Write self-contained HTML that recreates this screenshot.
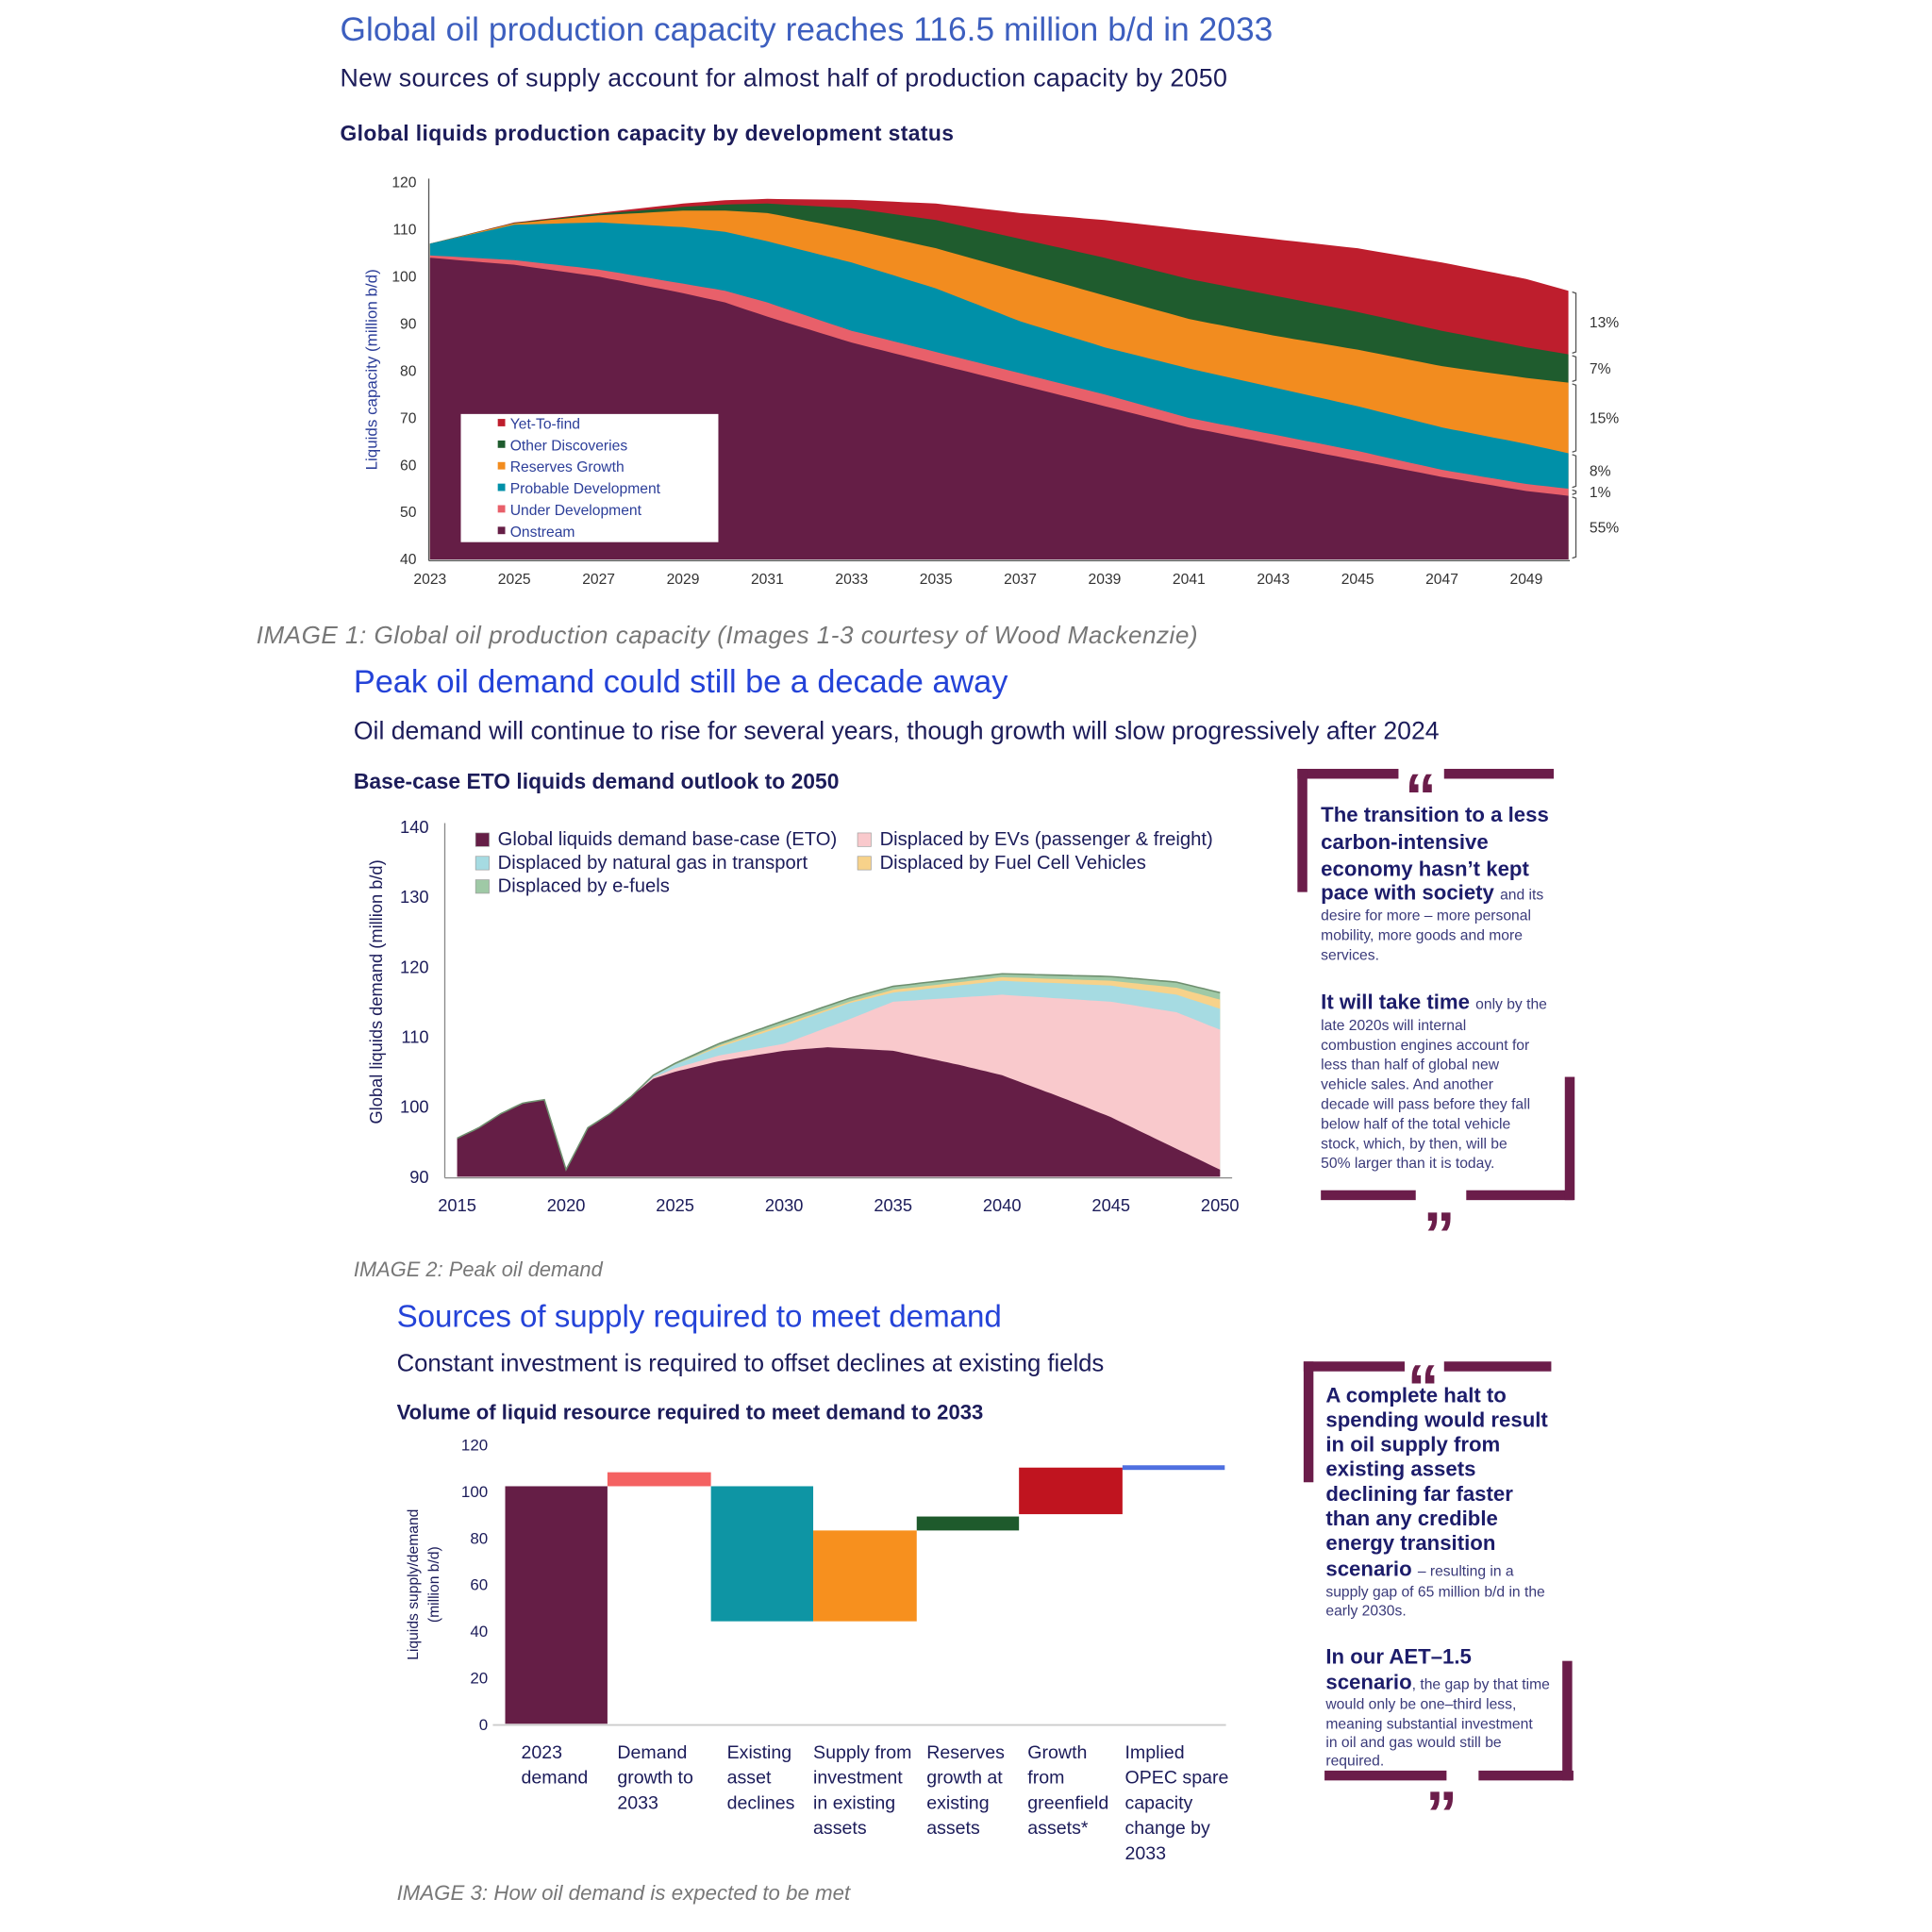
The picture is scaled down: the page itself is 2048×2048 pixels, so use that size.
<!DOCTYPE html>
<html><head><meta charset="utf-8"><style>
html,body{margin:0;padding:0;background:#fff}
svg{display:block}
text{font-family:"Liberation Sans",sans-serif}
</style></head><body>
<svg id="s" width="2048" height="2048" viewBox="0 0 1568 1568" xmlns="http://www.w3.org/2000/svg">
<rect width="1568" height="1568" fill="#fff"/>
<!-- Section 1 -->
<text x="276" y="33" font-size="27" fill="#3d5fbf" textLength="757">Global oil production capacity reaches 116.5 million b/d in 2033</text>
<text x="276" y="70" font-size="20.5" fill="#1c1c5a" textLength="720">New sources of supply account for almost half of production capacity by 2050</text>
<text x="276" y="114" font-size="17.5" font-weight="bold" fill="#1c1c5a" textLength="498">Global liquids production capacity by development status</text>
<g id="c1"></g>
<text x="208" y="522" font-size="20" font-style="italic" fill="#777" textLength="764">IMAGE 1: Global oil production capacity (Images 1-3 courtesy of Wood Mackenzie)</text>
<!-- Section 2 -->
<text x="287" y="562" font-size="26.3" fill="#2443d8" textLength="531">Peak oil demand could still be a decade away</text>
<text x="287" y="600" font-size="20.4" fill="#1c1c5a" textLength="881">Oil demand will continue to rise for several years, though growth will slow progressively after 2024</text>
<text x="287" y="640" font-size="17.5" font-weight="bold" fill="#1c1c5a" textLength="394">Base-case ETO liquids demand outlook to 2050</text>
<g id="c2"></g>
<text x="287" y="1036" font-size="16.7" font-style="italic" fill="#777" textLength="202">IMAGE 2: Peak oil demand</text>
<!-- Section 3 -->
<text x="322" y="1077" font-size="25.4" fill="#2443d8" textLength="491">Sources of supply required to meet demand</text>
<text x="322" y="1113" font-size="19.7" fill="#1c1c5a" textLength="574">Constant investment is required to offset declines at existing fields</text>
<text x="322" y="1152" font-size="16.9" font-weight="bold" fill="#1c1c5a" textLength="476">Volume of liquid resource required to meet demand to 2033</text>
<g id="c3"></g>
<text x="322" y="1542" font-size="17" font-style="italic" fill="#777" textLength="368">IMAGE 3: How oil demand is expected to be met</text>

<!-- Quote boxes -->
<g fill="#6b1d4a">
<rect x="1053" y="624" width="82" height="8"/><rect x="1172" y="624" width="89" height="8"/>
<rect x="1053" y="624" width="8" height="100"/>
<rect x="1072" y="966" width="77" height="8"/><rect x="1190" y="966" width="87" height="8"/>
<rect x="1270" y="874" width="8" height="100"/>
<rect x="1058" y="1105" width="82" height="8"/><rect x="1172" y="1105" width="87" height="8"/>
<rect x="1058" y="1105" width="8" height="98"/>
<rect x="1075" y="1437" width="99" height="8"/><rect x="1200" y="1437" width="77" height="8"/>
<rect x="1268" y="1348" width="8" height="97"/>
</g>
<g fill="#6b1d4a" font-size="52" font-weight="bold">
<text x="1140" y="664">“</text><text x="1155" y="1020">”</text>
<text x="1142" y="1144">“</text><text x="1157" y="1490">”</text>
</g>
<g fill="#1c1c6a" font-weight="bold" font-size="17">
<text x="1072" y="667">The transition to a less</text>
<text x="1072" y="689">carbon-intensive</text>
<text x="1072" y="711">economy hasn’t kept</text>
<text x="1072" y="730">pace with society <tspan font-size="12" font-weight="normal" fill="#3a3a7a">and its</tspan></text>
<text x="1072" y="819">It will take time <tspan font-size="12" font-weight="normal" fill="#3a3a7a">only by the</tspan></text>
<text x="1076" y="1138">A complete halt to</text>
<text x="1076" y="1158">spending would result</text>
<text x="1076" y="1178">in oil supply from</text>
<text x="1076" y="1198">existing assets</text>
<text x="1076" y="1218">declining far faster</text>
<text x="1076" y="1238">than any credible</text>
<text x="1076" y="1258">energy transition</text>
<text x="1076" y="1279">scenario <tspan font-size="12" font-weight="normal" fill="#3a3a7a">– resulting in a</tspan></text>
<text x="1076" y="1350">In our AET–1.5</text>
<text x="1076" y="1371">scenario<tspan font-size="12" font-weight="normal" fill="#3a3a7a">, the gap by that time</tspan></text>
</g>
<g fill="#3a3a7a" font-size="12">
<text x="1072" y="747">desire for more – more personal</text>
<text x="1072" y="763">mobility, more goods and more</text>
<text x="1072" y="779">services.</text>
<text x="1072" y="836">late 2020s will internal</text>
<text x="1072" y="852">combustion engines account for</text>
<text x="1072" y="868">less than half of global new</text>
<text x="1072" y="884">vehicle sales. And another</text>
<text x="1072" y="900">decade will pass before they fall</text>
<text x="1072" y="916">below half of the total vehicle</text>
<text x="1072" y="932">stock, which, by then, will be</text>
<text x="1072" y="948">50% larger than it is today.</text>
<text x="1076" y="1296">supply gap of 65 million b/d in the</text>
<text x="1076" y="1311">early 2030s.</text>
<text x="1076" y="1387">would only be one–third less,</text>
<text x="1076" y="1403">meaning substantial investment</text>
<text x="1076" y="1418">in oil and gas would still be</text>
<text x="1076" y="1433">required.</text>
</g>
</svg>
<script>
const NS="http://www.w3.org/2000/svg";
function el(p,t,a,txt){const e=document.createElementNS(NS,t);for(const k in a)e.setAttribute(k,a[k]);if(txt!==undefined)e.textContent=txt;p.appendChild(e);return e;}
function interp(pts,x){for(let i=0;i<pts.length-1;i++){if(x>=pts[i][0]&&x<=pts[i+1][0]){const t=(x-pts[i][0])/(pts[i+1][0]-pts[i][0]);return pts[i][1]+t*(pts[i+1][1]-pts[i][1]);}}return pts[pts.length-1][1];}
function band(g,top,bot,X,Y,x0,x1,step,fill){let d="";for(let x=x0;x<=x1+1e-9;x+=step){d+=(d?"L":"M")+X(x).toFixed(1)+","+Y(interp(top,x)).toFixed(1);}for(let x=x1;x>=x0-1e-9;x-=step){d+="L"+X(x).toFixed(1)+","+Y(bot?interp(bot,x):null).toFixed(1);}el(g,"path",{d:d+"Z",fill:fill});}
// Chart 1
(function(){const g=document.getElementById("c1");
const X=y=>349+(y-2023)*34.22,Y=v=>v===null?454:454-(v-40)*3.825;
const yrs=[2023,2025,2027,2029,2030,2031,2033,2035,2037,2039,2041,2043,2045,2047,2049,2050];
const mk=a=>yrs.map((y,i)=>[y,a[i]]);
const on=mk([104,102.5,100,96.5,94.5,91.5,86,81.5,77,72.5,68,64.5,61,57.5,54.5,53.5]);
const ud=mk([104.5,103.5,101.5,98.5,97,94.5,88.5,84,79.5,75,70,66.5,63,59,56,55]);
const pd=mk([107,111,111.5,110.5,109.5,107.5,103,97.5,90.5,85,80.5,76.5,72.5,68,64.5,62.5]);
const rg=mk([107,111.3,113,114,114,113.5,110,106,101,96,91,87.5,84.5,81,78.5,77.5]);
const od=mk([107,111.4,113.3,114.8,115.3,115.5,114.5,112,108,104,99.5,96,92.5,88.5,85,83.5]);
const yf=mk([107,111.5,113.5,115.5,116.2,116.5,116.3,115.5,113.5,112,110,108,106,103,99.5,97]);
const L=[[yf,"#be1e2d"],[od,"#1f5c2e"],[rg,"#f28c1f"],[pd,"#0090a8"],[ud,"#e8606a"],[on,"#651e46"]];
L.forEach(([t,c])=>band(g,t,null,X,Y,2023,2050,0.25,c));
el(g,"line",{x1:348,y1:145,x2:348,y2:455,stroke:"#555","stroke-width":1});
el(g,"line",{x1:348,y1:455,x2:1274,y2:455,stroke:"#555","stroke-width":1});
for(let v=40;v<=120;v+=10){el(g,"text",{x:338,y:Y(v)+4,"font-size":12,"text-anchor":"end",fill:"#333"},v);}
for(let y=2023;y<=2049;y+=2){el(g,"text",{x:X(y),y:474,"font-size":12,"text-anchor":"middle",fill:"#333"},y);}
el(g,"text",{x:306,y:300,"font-size":13,"text-anchor":"middle",fill:"#2c3e99",transform:"rotate(-90 306 300)"},"Liquids capacity (million b/d)");
el(g,"rect",{x:374,y:336,width:209,height:104,fill:"#fff"});
[["Yet-To-find","#be1e2d"],["Other Discoveries","#1f5c2e"],["Reserves Growth","#f28c1f"],["Probable Development","#0090a8"],["Under Development","#e8606a"],["Onstream","#651e46"]].forEach(([n,c],i)=>{const yy=344+i*17.5;el(g,"rect",{x:404,y:yy-4,width:6,height:6,fill:c});el(g,"text",{x:414,y:yy+4,"font-size":12,fill:"#2c3e99"},n);});
const br=[[97,83.5,"13%"],[83.5,77.5,"7%"],[77.5,62.5,"15%"],[62.5,55,"8%"],[55,53.5,"1%"],[53.5,40,"55%"]];
br.forEach(([a,b,t])=>{el(g,"path",{d:`M1276,${Y(a)+1} L1279,${Y(a)+2} L1279,${Y(b)-2} L1276,${Y(b)-1}`,fill:"none",stroke:"#555","stroke-width":1});el(g,"text",{x:1290,y:(Y(a)+Y(b))/2+4,"font-size":12,fill:"#333"},t);});
})();
// Chart 2
(function(){const g=document.getElementById("c2");
const X=y=>371+(y-2015)*17.69,Y=v=>v===null?955:955-(v-90)*5.68;
const base=[[2015,95.5],[2016,97],[2017,99],[2018,100.5],[2019,101],[2020,91],[2021,97],[2022,99],[2023,101.5],[2024,104],[2025,105],[2027,106.5],[2030,108],[2032,108.5],[2035,108],[2038,106],[2040,104.5],[2043,101],[2045,98.5],[2048,94],[2050,91]];
const pre=base.slice(0,9);
const ev=pre.concat([[2024,104.2],[2025,105.5],[2027,107.3],[2030,109],[2033,112.5],[2035,115],[2040,116],[2045,115],[2048,113.5],[2050,111]]);
const ng=pre.concat([[2024,104.4],[2025,106],[2027,108.5],[2030,111.5],[2033,114.8],[2035,116.3],[2040,118],[2045,117.3],[2048,116],[2050,114]]);
const fc=pre.concat([[2024,104.4],[2025,106],[2027,108.7],[2030,111.8],[2033,115],[2035,116.7],[2040,118.5],[2045,118],[2048,117],[2050,115.3]]);
const ef=pre.concat([[2024,104.5],[2025,106.2],[2027,109],[2030,112.3],[2033,115.5],[2035,117.2],[2040,119],[2045,118.6],[2048,117.8],[2050,116.3]]);
band(g,ef,null,X,Y,2015,2050,0.25,"#9fc9a6");
band(g,fc,null,X,Y,2015,2050,0.25,"#f7d28a");
band(g,ng,null,X,Y,2015,2050,0.25,"#a6dbe2");
band(g,ev,null,X,Y,2015,2050,0.25,"#f9c9cc");
band(g,base,null,X,Y,2015,2050,0.25,"#651e46");
let d="";for(let x=2015;x<=2050;x+=0.25)d+=(d?"L":"M")+X(x).toFixed(1)+","+Y(interp(ef,x)).toFixed(1);
el(g,"path",{d:d,fill:"none",stroke:"#6f8f6f","stroke-width":1.2});
el(g,"line",{x1:361,y1:668,x2:361,y2:956,stroke:"#888","stroke-width":1});
el(g,"line",{x1:361,y1:956,x2:1000,y2:956,stroke:"#888","stroke-width":1});
for(let v=90;v<=140;v+=10)el(g,"text",{x:348,y:Y(v)+5,"font-size":14,"text-anchor":"end",fill:"#1c1c5a"},v);
for(let y=2015;y<=2050;y+=5)el(g,"text",{x:X(y),y:983,"font-size":14,"text-anchor":"middle",fill:"#1c1c5a"},y);
el(g,"text",{x:310,y:805,"font-size":14,"text-anchor":"middle",fill:"#1c1c5a",transform:"rotate(-90 310 805)"},"Global liquids demand (million b/d)");
[[386,686,"#651e46","Global liquids demand base-case (ETO)"],[696,686,"#f9c9cc","Displaced by EVs (passenger & freight)"],[386,705,"#a6dbe2","Displaced by natural gas in transport"],[696,705,"#f7d28a","Displaced by Fuel Cell Vehicles"],[386,724,"#9fc9a6","Displaced by e-fuels"]].forEach(([x,y,c,t])=>{el(g,"rect",{x:x,y:y-10,width:11,height:11,fill:c,stroke:"#999","stroke-width":0.5});el(g,"text",{x:x+18,y:y,"font-size":15.5,fill:"#1c1c5a"},t);});
})();
// Chart 3
(function(){const g=document.getElementById("c3");
const Y=v=>1399-v*1.89;
el(g,"line",{x1:400,y1:1400,x2:995,y2:1400,stroke:"#ccc","stroke-width":1.5});
for(let v=0;v<=120;v+=20)el(g,"text",{x:396,y:Y(v)+5,"font-size":13,"text-anchor":"end",fill:"#1c1c5a"},v);
el(g,"text",{x:339,y:1286,"font-size":12,"text-anchor":"middle",fill:"#1c1c5a",transform:"rotate(-90 339 1286)"},"Liquids supply/demand");
el(g,"text",{x:356,y:1286,"font-size":12,"text-anchor":"middle",fill:"#1c1c5a",transform:"rotate(-90 356 1286)"},"(million b/d)");
const bars=[[410,493,0,102,"#651e46"],[493,577,102,108,"#f46262"],[577,660,44,102,"#0e95a4"],[660,744,44,83,"#f7901e"],[744,827,83,89,"#1e5a2c"],[827,911,90,110,"#c0141f"],[911,994,109,111,"#4f70e0"]];
bars.forEach(([x0,x1,a,b,c])=>el(g,"rect",{x:x0,y:Y(b),width:x1-x0,height:Y(a)-Y(b),fill:c}));
const labs=[[423,["2023","demand"]],[501,["Demand","growth to","2033"]],[590,["Existing","asset","declines"]],[660,["Supply from","investment","in existing","assets"]],[752,["Reserves","growth at","existing","assets"]],[834,["Growth","from","greenfield","assets*"]],[913,["Implied","OPEC spare","capacity","change by","2033"]]];
labs.forEach(([x,ls])=>ls.forEach((t,i)=>el(g,"text",{x:x,y:1427+i*20.5,"font-size":15,fill:"#1c1c5a"},t)));
})();
</script>
</body></html>
